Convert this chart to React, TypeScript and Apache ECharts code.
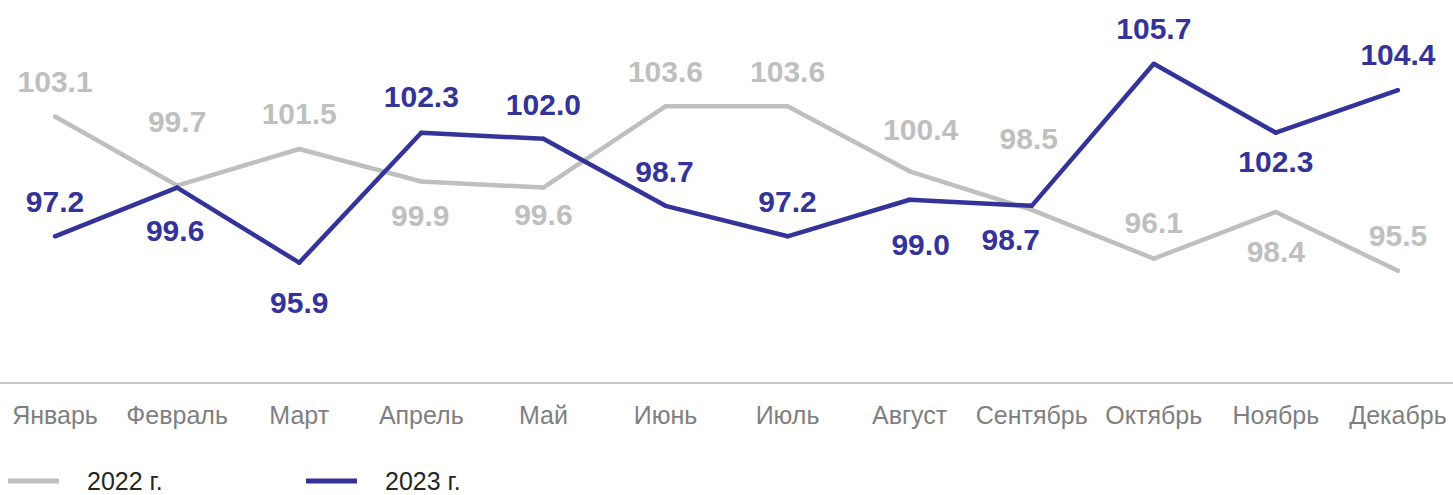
import React, { useEffect, useRef } from "react";
import * as echarts from "echarts";

const categories = [
  "Январь", "Февраль", "Март", "Апрель", "Май", "Июнь",
  "Июль", "Август", "Сентябрь", "Октябрь", "Ноябрь", "Декабрь",
];
const seriesNames = ["2022 г.", "2023 г."];
const values2022 = [103.1, 99.7, 101.5, 99.9, 99.6, 103.6, 103.6, 100.4, 98.5, 96.1, 98.4, 95.5];
const values2023 = [97.2, 99.6, 95.9, 102.3, 102.0, 98.7, 97.2, 99.0, 98.7, 105.7, 102.3, 104.4];

// label placement (style only): [dx, dy] from each point to the label centre
const labelOffsets2022: number[][] = [
  [0, -35], [0, -64], [0, -35], [-1, 34], [0, 27], [0, -35],
  [0, -35], [11, -42], [-3, -71], [0, -36], [0, 40], [0, -35],
];
const labelOffsets2023: number[][] = [
  [0, -35], [-2, 43], [0, 40], [0, -36], [0, -34], [-1, -34],
  [0, -35], [11, 45], [-21, 34], [0, -35], [0, 29], [0, -36],
];

const GRAY = "#bfbfbf";
const NAVY = "#333399";
const FONT = "'Liberation Sans', Arial, sans-serif";
const SHIFT = 6; // chart canvas extends slightly beyond the page on both sides

export default function App() {
  const ref = useRef<HTMLDivElement>(null);
  useEffect(() => {
    if (!ref.current) return;
    const chart = echarts.init(ref.current, undefined, { renderer: "svg" });
    const mk = (vals: number[], offs: number[][]) =>
      vals.map((v, i) => ({ value: v, label: { offset: offs[i] } }));
    const seriesBase = (name: string, vals: number[], offs: number[][], color: string, z: number) => ({
      name,
      type: "line",
      data: mk(vals, offs),
      symbol: "circle",
      symbolSize: 4.5,
      showSymbol: true,
      z,
      lineStyle: { color, width: 4.5 },
      itemStyle: { color },
      label: {
        show: true,
        position: "inside",
        color,
        fontSize: 30,
        fontWeight: "bold",
        fontFamily: FONT,
        formatter: (p: any) => Number(p.value).toFixed(1),
      },
      emphasis: { disabled: true },
    });
    const legendBase = {
      padding: 0,
      top: 468,
      icon: "rect",
      itemWidth: 51,
      itemHeight: 5,
      selectedMode: false,
      textStyle: {
        color: "#262626",
        fontSize: 25,
        lineHeight: 26,
        fontFamily: FONT,
        padding: [0, 0, 0, 23],
      },
    };
    chart.setOption({
      animation: false,
      backgroundColor: "#ffffff",
      grid: { left: 0, right: 0, top: 17, bottom: 112.5, containLabel: false },
      legend: [
        { ...legendBase, data: [seriesNames[0]], left: 8 + SHIFT },
        { ...legendBase, data: [seriesNames[1]], left: 306 + SHIFT },
      ],
      xAxis: {
        type: "category",
        data: categories,
        boundaryGap: true,
        axisLine: { lineStyle: { color: "#c8c8c8", width: 2 } },
        axisTick: { show: false },
        axisLabel: {
          interval: 0,
          color: "#7f7f7f",
          fontSize: 25,
          fontFamily: FONT,
          margin: 19,
          lineHeight: 26,
        },
        splitLine: { show: false },
      },
      yAxis: { type: "value", min: 90, max: 108, show: false, splitLine: { show: false } },
      series: [
        seriesBase(seriesNames[0], values2022, labelOffsets2022, GRAY, 2),
        seriesBase(seriesNames[1], values2023, labelOffsets2023, NAVY, 3),
      ],
    });
    return () => chart.dispose();
  }, []);
  return (
    <div style={{ position: "absolute", left: 0, top: 0, width: 1453, height: 495, overflow: "hidden", background: "#fff" }}>
      <div
        ref={ref}
        style={{ position: "absolute", left: -SHIFT, top: 0, width: 1453 + 2 * SHIFT, height: 495 }}
      />
    </div>
  );
}
